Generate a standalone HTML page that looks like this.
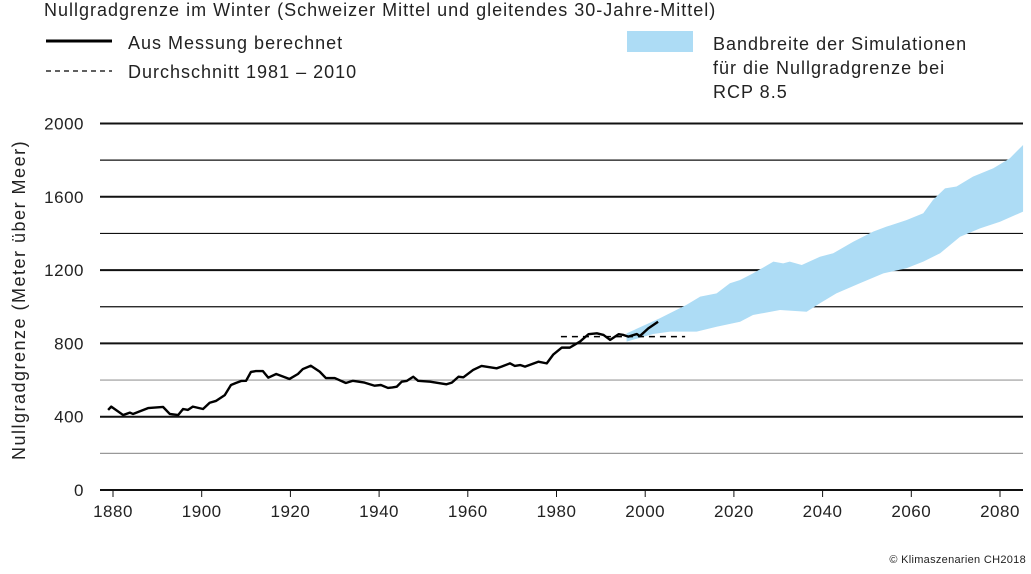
<!DOCTYPE html>
<html><head><meta charset="utf-8"><style>
body{margin:0;background:#fff;font-family:"Liberation Sans",sans-serif;color:#222}
svg text{font-family:"Liberation Sans",sans-serif;fill:#222}
</style></head><body>
<svg width="1031" height="569" viewBox="0 0 1031 569" xmlns="http://www.w3.org/2000/svg">
<text x="44" y="16" font-size="18" letter-spacing="1">Nullgradgrenze im Winter (Schweizer Mittel und gleitendes 30-Jahre-Mittel)</text>
<line x1="46" y1="41" x2="112" y2="41" stroke="#000" stroke-width="3"/>
<text x="128" y="49" font-size="18" letter-spacing="1">Aus Messung berechnet</text>
<line x1="46" y1="71" x2="112" y2="71" stroke="#000" stroke-width="1.2" stroke-dasharray="5,4"/>
<text x="128" y="78" font-size="18" letter-spacing="1">Durchschnitt 1981 – 2010</text>
<rect x="627" y="31" width="66" height="21" fill="#addcf5"/>
<text font-size="18" letter-spacing="1"><tspan x="713" y="50">Bandbreite der Simulationen</tspan><tspan x="713" y="74">für die Nullgradgrenze bei</tspan><tspan x="713" y="98">RCP 8.5</tspan></text>
<text transform="translate(25,300) rotate(-90)" text-anchor="middle" font-size="18" letter-spacing="1.5">Nullgradgrenze (Meter über Meer)</text>
<g id="grid"></g><g id="band"></g><g id="lines"></g><g id="xt"></g>
<text x="1026" y="563" text-anchor="end" font-size="11" letter-spacing="0.3">© Klimaszenarien CH2018</text>
</svg>
<script>
const yTicks=[0,200,400,600,800,1000,1200,1400,1600,1800,2000];
const xTicks=[1880,1900,1920,1940,1960,1980,2000,2020,2040,2060,2080];
const measYears=[1878.9,1879.6,1882.3,1883.8,1884.5,1887.9,1891.3,1892.8,1894.7,1895.8,1896.9,1898,1900.3,1901.8,1903.2,1905.2,1906.6,1907.7,1908.9,1910,1911.1,1912.2,1913.8,1915,1916.8,1919.8,1921.7,1922.8,1924.6,1926.6,1928,1930,1932.5,1934.1,1936.7,1939,1940.4,1942,1943,1944,1945.1,1946.2,1947.7,1948.8,1951.5,1955.2,1956.4,1957.9,1959,1961.2,1963.1,1966.5,1967.6,1969.5,1970.6,1971.8,1972.9,1975.9,1977.8,1979.3,1981.2,1983,1985.3,1987.2,1989.1,1990.6,1992.1,1994,1995.1,1996.2,1998.1,1998.8,2000.7,2002.9];
const measVals=[437,455,409,422,415,447,453,415,409,442,437,455,442,476,486,518,573,584,595,596,644,649,649,613,633,606,633,660,678,646,611,611,584,596,586,569,573,557,560,564,591,595,618,596,591,577,586,618,615,655,677,664,673,691,677,682,673,700,691,740,777,777,810,850,855,846,819,850,846,837,851,840,882,918];
const avgStart=1981, avgEnd=2009, avgVal=837;
const upYears=[1995.8,2003.3,2009.3,2012.4,2016.1,2019.1,2021.4,2024.3,2028.9,2031.1,2032.6,2035.3,2039.4,2042.4,2046.9,2051.4,2054.4,2058.9,2062.7,2064.9,2067.6,2070.2,2073.9,2078.5,2082.2,2085.2];
const upVals=[855,937,1010,1055,1073,1128,1146,1182,1246,1237,1246,1228,1273,1292,1355,1410,1437,1473,1510,1583,1646,1656,1710,1756,1810,1883];
const loYears=[1995.8,2001.8,2005.6,2011.6,2016.1,2021.4,2024.3,2030.4,2036.4,2039.4,2043.1,2048.4,2053.7,2058.9,2062.7,2066.5,2071,2075.5,2080,2085.2];
const loVals=[810,851,864,864,891,918,955,982,973,1019,1073,1128,1182,1210,1246,1292,1382,1428,1464,1519];
const X=y=>113+(y-1880)*4.435, Y=v=>490-v*0.18325;
const NS='http://www.w3.org/2000/svg';
function mk(t,a,p){const e=document.createElementNS(NS,t);for(const k in a)e.setAttribute(k,a[k]);document.getElementById(p).appendChild(e);return e;}
yTicks.forEach(v=>{
 const major=v%400===0, gray=(v===600||v===200);
 const l=mk('line',{x1:100,x2:1023,y1:Y(v),y2:Y(v),stroke:gray?'#999':'#111','stroke-width':major?2:1.2},'grid');
 
 
 if(major){const t=mk('text',{x:84,y:Y(v)+6,'text-anchor':'end','font-size':17,'letter-spacing':0.5},'grid');t.textContent=v;
 
 }
});
xTicks.forEach(v=>{
 const l=mk('line',{x1:X(v),x2:X(v),y1:490,y2:497,stroke:'#111','stroke-width':1},'xt');
 
 
 const t=mk('text',{x:X(v),y:517,'text-anchor':'middle','font-size':17,'letter-spacing':0.5},'xt');t.textContent=v;
 
 
});
let d='M'+upYears.map((y,i)=>X(y)+','+Y(upVals[i])).join('L');
for(let i=loYears.length-1;i>=0;i--)d+='L'+X(loYears[i])+','+Y(loVals[i]);
const b=mk('path',{d:d+'Z',fill:'#addcf5'},'band');


const a=mk('line',{x1:X(avgStart),x2:X(avgEnd),y1:Y(avgVal),y2:Y(avgVal),stroke:'#000','stroke-width':1.5,'stroke-dasharray':'6,5'},'lines');


const m=mk('polyline',{points:measYears.map((y,i)=>X(y)+','+Y(measVals[i])).join(' '),fill:'none',stroke:'#000','stroke-width':2.4,'stroke-linejoin':'round'},'lines');


</script>
</body></html>
